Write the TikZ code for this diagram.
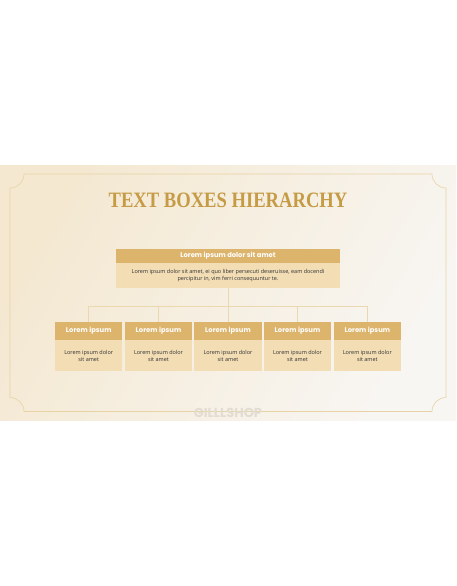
\documentclass[tikz,border=0pt]{standalone}
\usepackage{fontspec}
\setmainfont{Open Sans}
\newfontfamily\headfont{Poppins}
\newfontfamily\titlefont{Liberation Serif}
\usepackage{tikz}

\definecolor{gold}{HTML}{C69B45}
\definecolor{headfill}{HTML}{DDB46C}
\definecolor{bodyfill}{HTML}{F2DDB5}
\definecolor{linkline}{HTML}{EAD8B0}
\definecolor{framecol}{HTML}{E7D3A4}
\definecolor{creamL}{HTML}{F4E8D1}
\definecolor{creamR}{HTML}{F8F6F3}
\definecolor{markcol}{HTML}{E2DCD2}

\begin{document}
\begin{tikzpicture}[x=1pt,y=1pt,
    headbox/.style={fill=headfill,text=white,font=\headfont\fontsize{6.8}{8}\selectfont\bfseries,align=center},
    bodybox/.style={fill=bodyfill,text=black!80,font=\fontsize{5.5}{6.7}\selectfont,align=center},
    link/.style={draw=linkline,line width=0.8pt}]
        \tikzstyle{every node}+=[inner sep=0pt]
        \useasboundingbox (0,0) rectangle (456,-586);
        \fill [white] (0,0) rectangle (456,-586);
        \shade [left color=creamL,right color=creamR,shading angle=60] (0,-165) rectangle (456,-420);
        % frame with notched corners
        \draw [framecol,line width=0.6pt] (24,-174) -- (432,-174) arc (180:270:14) -- (446,-397.5)
            arc (90:180:14) -- (24,-411.5) arc (0:90:14) -- (10,-188) arc (270:360:14) -- cycle;
        \node [text=markcol,font=\headfont\fontsize{13}{13}\selectfont\bfseries] (mark) at (228,-413) {GILLLSHOP};
        \node [text=gold,font=\titlefont\fontsize{18.6}{22}\selectfont\bfseries] (title) at (228,-200.5)
            {\scalebox{1}[1.18]{TEXT BOXES HIERARCHY}};
        % top box
        \node [headbox,minimum width=224pt,minimum height=13.7pt] (top) at (228,-255.9) {Lorem ipsum dolor sit amet};
        \node [bodybox,minimum width=224pt,minimum height=24.6pt,anchor=north] (topbody) at (top.south)
            {Lorem ipsum dolor sit amet, ei quo liber persecuti deseruisse, eam docendi\\percipitur in, vim ferri consequuntur te.};
        \coordinate (bus) at (228,-306);
        % child boxes
        \foreach \i/\x in {1/88.7,2/158.5,3/228,4/297.5,5/367.3} {
            \node [headbox,minimum width=67.3pt,minimum height=18.3pt] (c\i) at (\x,-330.9) {Lorem ipsum};
            \node [bodybox,minimum width=67.3pt,minimum height=30.7pt,anchor=north] (b\i) at (c\i.south)
                {Lorem ipsum dolor\\sit amet};
        }
        \draw [link] (topbody.south) -- (bus);
        \draw [link] (c1.north) -- (c1.north |- bus) -- (c5.north |- bus) -- (c5.north);
        \foreach \i in {2,3,4}
            \draw [link] (c\i.north) -- (c\i.north |- bus);
    \end{tikzpicture}
\end{document}
